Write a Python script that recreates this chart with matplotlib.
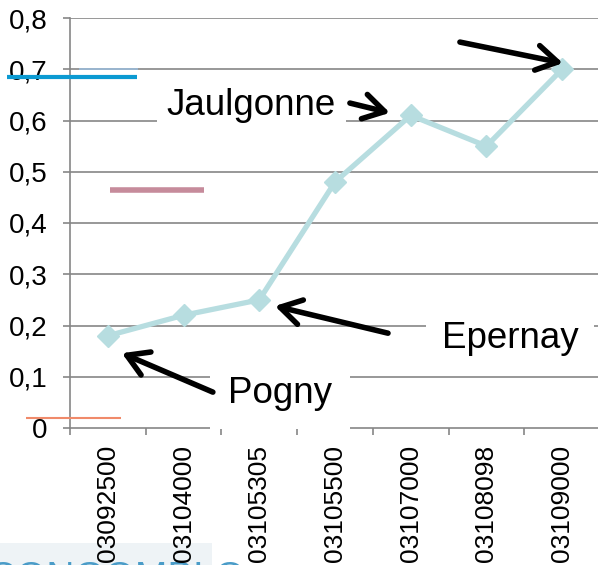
import matplotlib
matplotlib.use("Agg")
import matplotlib.pyplot as plt
from matplotlib.patches import Rectangle

plt.rcParams['font.family'] = ['Liberation Sans', 'DejaVu Sans']

# ---- data ----
stations = ["03092500", "03104000", "03105305", "03105500", "03107000", "03108098", "03109000"]
values = [0.18, 0.22, 0.25, 0.48, 0.61, 0.55, 0.70]
y_ticks = [0, 0.1, 0.2, 0.3, 0.4, 0.5, 0.6, 0.7, 0.8]
y_tick_labels = ["0", "0,1", "0,2", "0,3", "0,4", "0,5", "0,6", "0,7", "0,8"]

# leftover legend-like short segments (y value, x start, x end in category units)
seg_y = [0.685, 0.701, 0.464, 0.0195]
seg_x0 = [-1.335, -0.383, 0.026, -1.083]
seg_x1 = [0.383, 0.396, 1.268, 0.172]
seg_colors = ["#0b9ad2", "#9bbbd9", "#c68b9b", "#f08a6a"]
seg_lw = [3.0, 1.2, 4.0, 1.5]

# annotations: label, text position, arrow tail, arrow head
labels = ["Jaulgonne", "Epernay", "Pogny"]
label_x = [0.779, 4.41, 1.585]
label_y = [0.611, 0.156, 0.049]
arrow_tail_x = [3.197, 3.70, 1.387, 4.65]
arrow_tail_y = [0.634, 0.185, 0.070, 0.753]
arrow_head_x = [3.725, 2.206, 0.185, 6.01]
arrow_head_y = [0.615, 0.238, 0.146, 0.712]

W, H = 598, 565
fig = plt.figure(figsize=(W / 100, H / 100), dpi=100)
ax = fig.add_axes([70 / W, (H - 428) / H, 530 / W, 410 / H])
ax.patch.set_alpha(0)

grid_c = "#868686"
x = list(range(len(stations)))
ax.set_xlim(-0.5, len(stations) - 0.5)
ax.set_ylim(0, 0.8)

for yv in y_ticks[1:]:
    ax.axhline(yv, color=grid_c, lw=1.2, zorder=1)

ax.plot(x, values, color="#b7dde0", lw=3.8, marker="D", markersize=11.5,
        markerfacecolor="#b7dde0", markeredgecolor="#b7dde0", zorder=4,
        solid_joinstyle="miter")

for s in ["top", "right"]:
    ax.spines[s].set_visible(False)
for s in ["left", "bottom"]:
    ax.spines[s].set_color(grid_c)
    ax.spines[s].set_linewidth(1.2)

ax.set_yticks(y_ticks)
ax.set_yticklabels(y_tick_labels, fontsize=20)
ax.tick_params(axis="y", length=5, width=1.2, color=grid_c, pad=11)

ax.set_xticks(x)
ax.set_xticklabels(stations, rotation=90, fontsize=19, va="top")
ax.set_xticks([i - 0.5 for i in range(len(stations) + 1)], minor=True)
ax.tick_params(axis="x", which="major", length=0, pad=12)
ax.tick_params(axis="x", which="minor", length=5, width=1.2, color=grid_c)

for yv, x0, x1, c, lw in zip(seg_y, seg_x0, seg_x1, seg_colors, seg_lw):
    ax.plot([x0, x1], [yv, yv], color=c, lw=lw, clip_on=False, zorder=3,
            solid_capstyle="butt")

pads = [0.28, 0.42, 0.48]
for t, tx, ty, p in zip(labels, label_x, label_y, pads):
    ax.text(tx, ty, t, fontsize=26.5, ha="left", va="baseline", zorder=5,
            bbox=dict(boxstyle=f"square,pad={p}", fc="white", ec="none"))

for x0, y0, x1, y1 in zip(arrow_tail_x, arrow_tail_y, arrow_head_x, arrow_head_y):
    ax.annotate("", xy=(x1, y1), xytext=(x0, y0), zorder=6,
                arrowprops=dict(arrowstyle="->,head_length=0.75,head_width=0.45",
                                color="black", lw=4.0, mutation_scale=20,
                                shrinkA=0, shrinkB=0, capstyle="round",
                                joinstyle="round"))

# cut-off logo at bottom-left (behind the axes)
fig.patches.append(Rectangle((0, 0), 212 / W, 22 / H, transform=fig.transFigure,
                             fc="#eef3f6", ec="none", zorder=-2))
fig.text(-12 / W, 4 / H, "CONGOMBLO", fontsize=28, color="#4a9cc8",
         va="top", ha="left", zorder=-1)

fig.savefig("out.png", dpi=100)
